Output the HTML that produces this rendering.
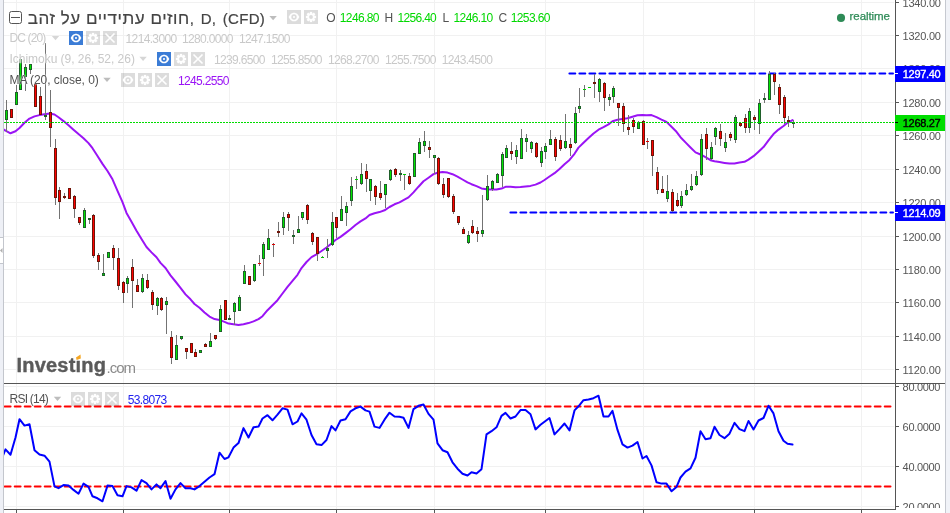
<!DOCTYPE html>
<html><head><meta charset="utf-8"><title>chart</title>
<style>
html,body{margin:0;padding:0;background:#fff;}
body{width:950px;height:513px;overflow:hidden;position:relative;font-family:"Liberation Sans",sans-serif;}
svg{position:absolute;left:0;top:0;}
.t{position:absolute;white-space:nowrap;}
.txt{position:absolute;left:0;top:0;width:950px;height:513px;will-change:transform;}
.lg{text-shadow:0 0 2px #fff,0 0 2px #fff;}
.clip{position:absolute;left:895px;width:50px;overflow:hidden;will-change:transform;}
</style></head><body>
<svg width="950" height="513" viewBox="0 0 950 513"><defs><clipPath id="cm"><rect x="4" y="0" width="890" height="383"/></clipPath><clipPath id="cr"><rect x="4" y="384" width="890" height="125"/></clipPath></defs>
<rect x="4" y="2" width="890" height="1" fill="#f1f1f1"/>
<rect x="4" y="35" width="890" height="1" fill="#f1f1f1"/>
<rect x="4" y="68" width="890" height="1" fill="#f1f1f1"/>
<rect x="4" y="102" width="890" height="1" fill="#f1f1f1"/>
<rect x="4" y="135" width="890" height="1" fill="#f1f1f1"/>
<rect x="4" y="169" width="890" height="1" fill="#f1f1f1"/>
<rect x="4" y="202" width="890" height="1" fill="#f1f1f1"/>
<rect x="4" y="236" width="890" height="1" fill="#f1f1f1"/>
<rect x="4" y="269" width="890" height="1" fill="#f1f1f1"/>
<rect x="4" y="302" width="890" height="1" fill="#f1f1f1"/>
<rect x="4" y="336" width="890" height="1" fill="#f1f1f1"/>
<rect x="4" y="369" width="890" height="1" fill="#f1f1f1"/>
<rect x="4" y="386" width="890" height="1" fill="#f1f1f1"/>
<rect x="4" y="426" width="890" height="1" fill="#f1f1f1"/>
<rect x="4" y="466" width="890" height="1" fill="#f1f1f1"/>
<rect x="4" y="506" width="890" height="1" fill="#f1f1f1"/>
<rect x="16" y="0" width="1" height="383" fill="#f1f1f1"/>
<rect x="16" y="384" width="1" height="125" fill="#f1f1f1"/>
<rect x="123" y="0" width="1" height="383" fill="#f1f1f1"/>
<rect x="123" y="384" width="1" height="125" fill="#f1f1f1"/>
<rect x="229" y="0" width="1" height="383" fill="#f1f1f1"/>
<rect x="229" y="384" width="1" height="125" fill="#f1f1f1"/>
<rect x="336" y="0" width="1" height="383" fill="#f1f1f1"/>
<rect x="336" y="384" width="1" height="125" fill="#f1f1f1"/>
<rect x="434" y="0" width="1" height="383" fill="#f1f1f1"/>
<rect x="434" y="384" width="1" height="125" fill="#f1f1f1"/>
<rect x="545" y="0" width="1" height="383" fill="#f1f1f1"/>
<rect x="545" y="384" width="1" height="125" fill="#f1f1f1"/>
<rect x="643" y="0" width="1" height="383" fill="#f1f1f1"/>
<rect x="643" y="384" width="1" height="125" fill="#f1f1f1"/>
<rect x="754" y="0" width="1" height="383" fill="#f1f1f1"/>
<rect x="754" y="384" width="1" height="125" fill="#f1f1f1"/>
<rect x="861" y="0" width="1" height="383" fill="#f1f1f1"/>
<rect x="861" y="384" width="1" height="125" fill="#f1f1f1"/>
<line x1="569.4" y1="73.45" x2="893" y2="73.45" stroke="#0000ff" stroke-width="2" stroke-dasharray="5.9 4.1" stroke-linecap="round"/>
<line x1="510.4" y1="212.4" x2="893" y2="212.4" stroke="#0000ff" stroke-width="2" stroke-dasharray="5.9 4.1" stroke-linecap="round"/>
<polyline points="0.5,127.5 5.5,130.7 10.5,133.3 15.5,131.3 19.5,128.0 24.5,122.8 29.5,118.6 34.5,116.4 39.5,115.1 44.5,114.2 49.5,113.4 54.5,114.5 58.5,117.3 63.5,121.1 68.5,125.2 73.5,129.7 78.5,134.1 83.5,138.3 88.5,143.1 92.5,148.2 97.5,156.0 102.5,163.9 107.5,171.0 112.5,179.3 117.5,190.8 122.5,202.2 126.5,212.9 131.5,221.7 136.5,230.7 141.5,238.9 146.5,247.0 151.5,252.4 156.5,257.2 160.5,262.9 165.5,268.0 170.5,275.4 175.5,281.5 180.5,287.8 185.5,294.4 190.5,299.3 194.5,304.0 199.5,307.8 204.5,312.5 209.5,316.6 214.5,319.1 219.5,319.9 224.5,321.9 228.5,323.6 233.5,324.2 238.5,325.0 243.5,324.2 248.5,323.1 253.5,321.4 258.5,319.1 262.5,316.2 267.5,310.2 272.5,305.3 277.5,300.2 282.5,293.5 287.5,286.8 292.5,280.8 297.5,274.8 301.5,268.1 306.5,262.0 311.5,257.1 316.5,254.3 321.5,251.0 326.5,247.5 331.5,243.4 335.5,240.0 340.5,236.9 345.5,233.1 350.5,229.2 355.5,225.0 360.5,221.4 365.5,218.4 369.5,215.0 374.5,213.2 379.5,212.1 384.5,210.3 389.5,207.0 394.5,204.3 399.5,202.4 403.5,200.2 408.5,197.4 413.5,192.4 418.5,186.7 423.5,181.3 428.5,177.7 433.5,174.1 437.5,172.8 442.5,172.1 447.5,172.6 452.5,174.2 457.5,176.7 462.5,179.5 467.5,182.4 471.5,184.2 476.5,186.1 481.5,188.4 486.5,189.3 491.5,189.6 496.5,189.6 501.5,188.6 505.5,186.8 510.5,186.8 515.5,187.2 520.5,187.1 525.5,186.5 530.5,185.9 535.5,184.6 540.5,182.5 544.5,180.0 549.5,176.5 554.5,173.2 559.5,168.9 564.5,164.2 569.5,159.9 574.5,153.8 578.5,147.6 583.5,142.7 588.5,138.0 593.5,133.5 598.5,129.7 603.5,127.2 608.5,124.4 612.5,121.2 617.5,119.7 622.5,119.0 627.5,118.3 632.5,116.7 637.5,115.2 642.5,115.1 646.5,115.2 651.5,115.1 656.5,117.1 661.5,119.7 666.5,121.9 671.5,126.8 676.5,131.8 680.5,137.2 685.5,142.4 690.5,147.5 695.5,152.4 700.5,154.5 705.5,157.2 710.5,160.2 714.5,161.3 719.5,162.1 724.5,162.9 729.5,163.6 734.5,163.4 739.5,162.4 744.5,161.8 748.5,159.6 753.5,156.2 758.5,151.7 763.5,147.1 768.5,140.3 773.5,134.1 778.5,129.6 783.5,126.0 787.5,122.8 792.5,120.1" fill="none" stroke="#9a14f5" stroke-width="2" stroke-linejoin="round" stroke-linecap="round" clip-path="url(#cm)"/>
<rect x="6" y="100" width="1" height="32" fill="#737373"/>
<rect x="5" y="110" width="3" height="10" fill="#1f5f2a"/>
<rect x="6" y="111" width="1" height="8" fill="#00e600"/>
<rect x="11" y="109" width="1" height="9" fill="#737373"/>
<rect x="10" y="109" width="3" height="9" fill="#6e1408"/>
<rect x="11" y="110" width="1" height="7" fill="#ff0000"/>
<rect x="16" y="85" width="1" height="20" fill="#737373"/>
<rect x="15" y="92" width="3" height="13" fill="#1f5f2a"/>
<rect x="16" y="93" width="1" height="11" fill="#00e600"/>
<rect x="20" y="58" width="1" height="32" fill="#737373"/>
<rect x="19" y="59" width="3" height="31" fill="#1f5f2a"/>
<rect x="20" y="60" width="1" height="29" fill="#00e600"/>
<rect x="25" y="64" width="1" height="27" fill="#737373"/>
<rect x="24" y="67" width="3" height="10" fill="#1f5f2a"/>
<rect x="25" y="68" width="1" height="8" fill="#00e600"/>
<rect x="30" y="64" width="1" height="10" fill="#737373"/>
<rect x="29" y="64" width="3" height="6" fill="#1f5f2a"/>
<rect x="30" y="65" width="1" height="4" fill="#00e600"/>
<rect x="35" y="84" width="1" height="23" fill="#737373"/>
<rect x="34" y="84" width="3" height="23" fill="#6e1408"/>
<rect x="35" y="85" width="1" height="21" fill="#ff0000"/>
<rect x="40" y="87" width="1" height="28" fill="#737373"/>
<rect x="39" y="96" width="3" height="19" fill="#6e1408"/>
<rect x="40" y="97" width="1" height="17" fill="#ff0000"/>
<rect x="45" y="43" width="1" height="77" fill="#737373"/>
<rect x="44" y="115" width="3" height="2" fill="#1f5f2a"/>
<rect x="50" y="90" width="1" height="57" fill="#737373"/>
<rect x="49" y="112" width="3" height="16" fill="#6e1408"/>
<rect x="50" y="113" width="1" height="14" fill="#ff0000"/>
<rect x="55" y="139" width="1" height="66" fill="#737373"/>
<rect x="54" y="148" width="3" height="50" fill="#6e1408"/>
<rect x="55" y="149" width="1" height="48" fill="#ff0000"/>
<rect x="59" y="187" width="1" height="32" fill="#737373"/>
<rect x="58" y="190" width="3" height="12" fill="#6e1408"/>
<rect x="59" y="191" width="1" height="10" fill="#ff0000"/>
<rect x="64" y="193" width="1" height="6" fill="#737373"/>
<rect x="63" y="196" width="3" height="2" fill="#6e1408"/>
<rect x="69" y="188" width="1" height="11" fill="#737373"/>
<rect x="68" y="188" width="3" height="11" fill="#6e1408"/>
<rect x="69" y="189" width="1" height="9" fill="#ff0000"/>
<rect x="74" y="195" width="1" height="23" fill="#737373"/>
<rect x="73" y="196" width="3" height="13" fill="#6e1408"/>
<rect x="74" y="197" width="1" height="11" fill="#ff0000"/>
<rect x="79" y="217" width="1" height="8" fill="#737373"/>
<rect x="78" y="217" width="3" height="6" fill="#6e1408"/>
<rect x="79" y="218" width="1" height="4" fill="#ff0000"/>
<rect x="84" y="208" width="1" height="20" fill="#737373"/>
<rect x="83" y="210" width="3" height="18" fill="#1f5f2a"/>
<rect x="84" y="211" width="1" height="16" fill="#00e600"/>
<rect x="89" y="218" width="1" height="6" fill="#737373"/>
<rect x="88" y="218" width="3" height="2" fill="#1f5f2a"/>
<rect x="93" y="214" width="1" height="44" fill="#737373"/>
<rect x="92" y="215" width="3" height="41" fill="#6e1408"/>
<rect x="93" y="216" width="1" height="39" fill="#ff0000"/>
<rect x="98" y="253" width="1" height="17" fill="#737373"/>
<rect x="97" y="255" width="3" height="7" fill="#6e1408"/>
<rect x="98" y="256" width="1" height="5" fill="#ff0000"/>
<rect x="103" y="254" width="1" height="22" fill="#737373"/>
<rect x="102" y="273" width="3" height="3" fill="#1f5f2a"/>
<rect x="103" y="274" width="1" height="1" fill="#00e600"/>
<rect x="108" y="252" width="1" height="6" fill="#737373"/>
<rect x="107" y="252" width="3" height="6" fill="#1f5f2a"/>
<rect x="108" y="253" width="1" height="4" fill="#00e600"/>
<rect x="113" y="245" width="1" height="25" fill="#737373"/>
<rect x="112" y="248" width="3" height="10" fill="#6e1408"/>
<rect x="113" y="249" width="1" height="8" fill="#ff0000"/>
<rect x="118" y="248" width="1" height="42" fill="#737373"/>
<rect x="117" y="258" width="3" height="28" fill="#6e1408"/>
<rect x="118" y="259" width="1" height="26" fill="#ff0000"/>
<rect x="123" y="281" width="1" height="22" fill="#737373"/>
<rect x="122" y="282" width="3" height="11" fill="#6e1408"/>
<rect x="123" y="283" width="1" height="9" fill="#ff0000"/>
<rect x="127" y="276" width="1" height="17" fill="#737373"/>
<rect x="126" y="278" width="3" height="6" fill="#1f5f2a"/>
<rect x="127" y="279" width="1" height="4" fill="#00e600"/>
<rect x="132" y="259" width="1" height="49" fill="#737373"/>
<rect x="131" y="267" width="3" height="14" fill="#6e1408"/>
<rect x="132" y="268" width="1" height="12" fill="#ff0000"/>
<rect x="137" y="279" width="1" height="13" fill="#737373"/>
<rect x="136" y="285" width="3" height="7" fill="#6e1408"/>
<rect x="137" y="286" width="1" height="5" fill="#ff0000"/>
<rect x="142" y="274" width="1" height="19" fill="#737373"/>
<rect x="141" y="278" width="3" height="14" fill="#1f5f2a"/>
<rect x="142" y="279" width="1" height="12" fill="#00e600"/>
<rect x="147" y="274" width="1" height="15" fill="#737373"/>
<rect x="146" y="280" width="3" height="8" fill="#6e1408"/>
<rect x="147" y="281" width="1" height="6" fill="#ff0000"/>
<rect x="152" y="290" width="1" height="20" fill="#737373"/>
<rect x="151" y="292" width="3" height="13" fill="#6e1408"/>
<rect x="152" y="293" width="1" height="11" fill="#ff0000"/>
<rect x="157" y="297" width="1" height="18" fill="#737373"/>
<rect x="156" y="298" width="3" height="8" fill="#1f5f2a"/>
<rect x="157" y="299" width="1" height="6" fill="#00e600"/>
<rect x="161" y="297" width="1" height="14" fill="#737373"/>
<rect x="160" y="298" width="3" height="12" fill="#6e1408"/>
<rect x="161" y="299" width="1" height="10" fill="#ff0000"/>
<rect x="166" y="297" width="1" height="37" fill="#737373"/>
<rect x="165" y="301" width="3" height="4" fill="#1f5f2a"/>
<rect x="166" y="302" width="1" height="2" fill="#00e600"/>
<rect x="171" y="331" width="1" height="33" fill="#737373"/>
<rect x="170" y="337" width="3" height="21" fill="#6e1408"/>
<rect x="171" y="338" width="1" height="19" fill="#ff0000"/>
<rect x="176" y="335" width="1" height="25" fill="#737373"/>
<rect x="175" y="345" width="3" height="15" fill="#1f5f2a"/>
<rect x="176" y="346" width="1" height="13" fill="#00e600"/>
<rect x="181" y="336" width="1" height="4" fill="#737373"/>
<rect x="180" y="336" width="3" height="3" fill="#1f5f2a"/>
<rect x="181" y="337" width="1" height="1" fill="#00e600"/>
<rect x="186" y="348" width="1" height="11" fill="#737373"/>
<rect x="185" y="348" width="3" height="4" fill="#6e1408"/>
<rect x="186" y="349" width="1" height="2" fill="#ff0000"/>
<rect x="191" y="343" width="1" height="10" fill="#737373"/>
<rect x="190" y="343" width="3" height="10" fill="#6e1408"/>
<rect x="191" y="344" width="1" height="8" fill="#ff0000"/>
<rect x="195" y="349" width="1" height="8" fill="#737373"/>
<rect x="194" y="352" width="3" height="5" fill="#6e1408"/>
<rect x="195" y="353" width="1" height="3" fill="#ff0000"/>
<rect x="200" y="350" width="1" height="3" fill="#737373"/>
<rect x="199" y="350" width="3" height="3" fill="#1f5f2a"/>
<rect x="200" y="351" width="1" height="1" fill="#00e600"/>
<rect x="205" y="343" width="1" height="4" fill="#737373"/>
<rect x="204" y="344" width="3" height="3" fill="#6e1408"/>
<rect x="205" y="345" width="1" height="1" fill="#ff0000"/>
<rect x="210" y="333" width="1" height="14" fill="#737373"/>
<rect x="209" y="341" width="3" height="6" fill="#1f5f2a"/>
<rect x="210" y="342" width="1" height="4" fill="#00e600"/>
<rect x="215" y="335" width="1" height="5" fill="#737373"/>
<rect x="214" y="335" width="3" height="4" fill="#6e1408"/>
<rect x="215" y="336" width="1" height="2" fill="#ff0000"/>
<rect x="220" y="305" width="1" height="27" fill="#737373"/>
<rect x="219" y="309" width="3" height="23" fill="#1f5f2a"/>
<rect x="220" y="310" width="1" height="21" fill="#00e600"/>
<rect x="225" y="300" width="1" height="20" fill="#737373"/>
<rect x="224" y="300" width="3" height="20" fill="#6e1408"/>
<rect x="225" y="301" width="1" height="18" fill="#ff0000"/>
<rect x="229" y="315" width="1" height="5" fill="#737373"/>
<rect x="228" y="318" width="3" height="2" fill="#1f5f2a"/>
<rect x="234" y="302" width="1" height="23" fill="#737373"/>
<rect x="233" y="303" width="3" height="9" fill="#1f5f2a"/>
<rect x="234" y="304" width="1" height="7" fill="#00e600"/>
<rect x="239" y="295" width="1" height="16" fill="#737373"/>
<rect x="238" y="297" width="3" height="14" fill="#1f5f2a"/>
<rect x="239" y="298" width="1" height="12" fill="#00e600"/>
<rect x="244" y="265" width="1" height="19" fill="#737373"/>
<rect x="243" y="271" width="3" height="13" fill="#1f5f2a"/>
<rect x="244" y="272" width="1" height="11" fill="#00e600"/>
<rect x="249" y="276" width="1" height="9" fill="#737373"/>
<rect x="248" y="276" width="3" height="9" fill="#6e1408"/>
<rect x="249" y="277" width="1" height="7" fill="#ff0000"/>
<rect x="254" y="264" width="1" height="18" fill="#737373"/>
<rect x="253" y="264" width="3" height="17" fill="#1f5f2a"/>
<rect x="254" y="265" width="1" height="15" fill="#00e600"/>
<rect x="259" y="255" width="1" height="11" fill="#737373"/>
<rect x="258" y="263" width="3" height="1" fill="#e00000"/>
<rect x="263" y="242" width="1" height="34" fill="#737373"/>
<rect x="262" y="244" width="3" height="15" fill="#1f5f2a"/>
<rect x="263" y="245" width="1" height="13" fill="#00e600"/>
<rect x="268" y="229" width="1" height="21" fill="#737373"/>
<rect x="267" y="238" width="3" height="12" fill="#1f5f2a"/>
<rect x="268" y="239" width="1" height="10" fill="#00e600"/>
<rect x="273" y="243" width="1" height="14" fill="#737373"/>
<rect x="272" y="244" width="3" height="1" fill="#e00000"/>
<rect x="278" y="222" width="1" height="15" fill="#737373"/>
<rect x="277" y="231" width="3" height="2" fill="#6e1408"/>
<rect x="283" y="212" width="1" height="23" fill="#737373"/>
<rect x="282" y="217" width="3" height="11" fill="#1f5f2a"/>
<rect x="283" y="218" width="1" height="9" fill="#00e600"/>
<rect x="288" y="212" width="1" height="19" fill="#737373"/>
<rect x="287" y="214" width="3" height="4" fill="#6e1408"/>
<rect x="288" y="215" width="1" height="2" fill="#ff0000"/>
<rect x="293" y="230" width="1" height="14" fill="#737373"/>
<rect x="292" y="235" width="3" height="2" fill="#1f5f2a"/>
<rect x="298" y="216" width="1" height="17" fill="#737373"/>
<rect x="297" y="229" width="3" height="4" fill="#1f5f2a"/>
<rect x="298" y="230" width="1" height="2" fill="#00e600"/>
<rect x="302" y="212" width="1" height="8" fill="#737373"/>
<rect x="301" y="212" width="3" height="6" fill="#1f5f2a"/>
<rect x="302" y="213" width="1" height="4" fill="#00e600"/>
<rect x="307" y="204" width="1" height="20" fill="#737373"/>
<rect x="306" y="205" width="3" height="15" fill="#6e1408"/>
<rect x="307" y="206" width="1" height="13" fill="#ff0000"/>
<rect x="312" y="232" width="1" height="13" fill="#737373"/>
<rect x="311" y="233" width="3" height="9" fill="#6e1408"/>
<rect x="312" y="234" width="1" height="7" fill="#ff0000"/>
<rect x="317" y="237" width="1" height="24" fill="#737373"/>
<rect x="316" y="237" width="3" height="17" fill="#6e1408"/>
<rect x="317" y="238" width="1" height="15" fill="#ff0000"/>
<rect x="322" y="256" width="1" height="2" fill="#737373"/>
<rect x="321" y="257" width="3" height="1" fill="#00c800"/>
<rect x="327" y="239" width="1" height="19" fill="#737373"/>
<rect x="326" y="248" width="3" height="3" fill="#1f5f2a"/>
<rect x="327" y="249" width="1" height="1" fill="#00e600"/>
<rect x="332" y="212" width="1" height="34" fill="#737373"/>
<rect x="331" y="222" width="3" height="23" fill="#1f5f2a"/>
<rect x="332" y="223" width="1" height="21" fill="#00e600"/>
<rect x="336" y="217" width="1" height="21" fill="#737373"/>
<rect x="335" y="217" width="3" height="11" fill="#6e1408"/>
<rect x="336" y="218" width="1" height="9" fill="#ff0000"/>
<rect x="341" y="196" width="1" height="25" fill="#737373"/>
<rect x="340" y="209" width="3" height="12" fill="#1f5f2a"/>
<rect x="341" y="210" width="1" height="10" fill="#00e600"/>
<rect x="346" y="202" width="1" height="24" fill="#737373"/>
<rect x="345" y="206" width="3" height="7" fill="#1f5f2a"/>
<rect x="346" y="207" width="1" height="5" fill="#00e600"/>
<rect x="351" y="177" width="1" height="29" fill="#737373"/>
<rect x="350" y="186" width="3" height="15" fill="#1f5f2a"/>
<rect x="351" y="187" width="1" height="13" fill="#00e600"/>
<rect x="356" y="176" width="1" height="13" fill="#737373"/>
<rect x="355" y="179" width="3" height="1" fill="#00c800"/>
<rect x="361" y="163" width="1" height="22" fill="#737373"/>
<rect x="360" y="174" width="3" height="10" fill="#1f5f2a"/>
<rect x="361" y="175" width="1" height="8" fill="#00e600"/>
<rect x="366" y="164" width="1" height="28" fill="#737373"/>
<rect x="365" y="171" width="3" height="8" fill="#6e1408"/>
<rect x="366" y="172" width="1" height="6" fill="#ff0000"/>
<rect x="370" y="179" width="1" height="22" fill="#737373"/>
<rect x="369" y="179" width="3" height="12" fill="#1f5f2a"/>
<rect x="370" y="180" width="1" height="10" fill="#00e600"/>
<rect x="375" y="185" width="1" height="20" fill="#737373"/>
<rect x="374" y="186" width="3" height="11" fill="#6e1408"/>
<rect x="375" y="187" width="1" height="9" fill="#ff0000"/>
<rect x="380" y="181" width="1" height="19" fill="#737373"/>
<rect x="379" y="193" width="3" height="5" fill="#6e1408"/>
<rect x="380" y="194" width="1" height="3" fill="#ff0000"/>
<rect x="385" y="184" width="1" height="24" fill="#737373"/>
<rect x="384" y="184" width="3" height="11" fill="#1f5f2a"/>
<rect x="385" y="185" width="1" height="9" fill="#00e600"/>
<rect x="390" y="169" width="1" height="12" fill="#737373"/>
<rect x="389" y="170" width="3" height="10" fill="#1f5f2a"/>
<rect x="390" y="171" width="1" height="8" fill="#00e600"/>
<rect x="395" y="168" width="1" height="9" fill="#737373"/>
<rect x="394" y="169" width="3" height="6" fill="#6e1408"/>
<rect x="395" y="170" width="1" height="4" fill="#ff0000"/>
<rect x="400" y="170" width="1" height="11" fill="#737373"/>
<rect x="399" y="173" width="3" height="2" fill="#1f5f2a"/>
<rect x="404" y="174" width="1" height="16" fill="#737373"/>
<rect x="403" y="174" width="3" height="1" fill="#00c800"/>
<rect x="409" y="173" width="1" height="12" fill="#737373"/>
<rect x="408" y="176" width="3" height="8" fill="#6e1408"/>
<rect x="409" y="177" width="1" height="6" fill="#ff0000"/>
<rect x="414" y="153" width="1" height="24" fill="#737373"/>
<rect x="413" y="153" width="3" height="24" fill="#1f5f2a"/>
<rect x="414" y="154" width="1" height="22" fill="#00e600"/>
<rect x="419" y="138" width="1" height="16" fill="#737373"/>
<rect x="418" y="142" width="3" height="12" fill="#1f5f2a"/>
<rect x="419" y="143" width="1" height="10" fill="#00e600"/>
<rect x="424" y="131" width="1" height="21" fill="#737373"/>
<rect x="423" y="141" width="3" height="5" fill="#1f5f2a"/>
<rect x="424" y="142" width="1" height="3" fill="#00e600"/>
<rect x="429" y="141" width="1" height="17" fill="#737373"/>
<rect x="428" y="147" width="3" height="3" fill="#6e1408"/>
<rect x="429" y="148" width="1" height="1" fill="#ff0000"/>
<rect x="434" y="155" width="1" height="19" fill="#737373"/>
<rect x="433" y="155" width="3" height="3" fill="#1f5f2a"/>
<rect x="434" y="156" width="1" height="1" fill="#00e600"/>
<rect x="438" y="157" width="1" height="28" fill="#737373"/>
<rect x="437" y="158" width="3" height="26" fill="#6e1408"/>
<rect x="438" y="159" width="1" height="24" fill="#ff0000"/>
<rect x="443" y="178" width="1" height="20" fill="#737373"/>
<rect x="442" y="184" width="3" height="11" fill="#6e1408"/>
<rect x="443" y="185" width="1" height="9" fill="#ff0000"/>
<rect x="448" y="178" width="1" height="20" fill="#737373"/>
<rect x="447" y="178" width="3" height="19" fill="#6e1408"/>
<rect x="448" y="179" width="1" height="17" fill="#ff0000"/>
<rect x="453" y="194" width="1" height="20" fill="#737373"/>
<rect x="452" y="196" width="3" height="16" fill="#6e1408"/>
<rect x="453" y="197" width="1" height="14" fill="#ff0000"/>
<rect x="458" y="216" width="1" height="9" fill="#737373"/>
<rect x="457" y="216" width="3" height="7" fill="#6e1408"/>
<rect x="458" y="217" width="1" height="5" fill="#ff0000"/>
<rect x="463" y="227" width="1" height="7" fill="#737373"/>
<rect x="462" y="229" width="3" height="5" fill="#6e1408"/>
<rect x="463" y="230" width="1" height="3" fill="#ff0000"/>
<rect x="468" y="231" width="1" height="13" fill="#737373"/>
<rect x="467" y="235" width="3" height="8" fill="#1f5f2a"/>
<rect x="468" y="236" width="1" height="6" fill="#00e600"/>
<rect x="472" y="220" width="1" height="14" fill="#737373"/>
<rect x="471" y="226" width="3" height="7" fill="#6e1408"/>
<rect x="472" y="227" width="1" height="5" fill="#ff0000"/>
<rect x="477" y="227" width="1" height="15" fill="#737373"/>
<rect x="476" y="231" width="3" height="3" fill="#6e1408"/>
<rect x="477" y="232" width="1" height="1" fill="#ff0000"/>
<rect x="482" y="195" width="1" height="42" fill="#737373"/>
<rect x="481" y="230" width="3" height="4" fill="#1f5f2a"/>
<rect x="482" y="231" width="1" height="2" fill="#00e600"/>
<rect x="487" y="175" width="1" height="26" fill="#737373"/>
<rect x="486" y="186" width="3" height="14" fill="#1f5f2a"/>
<rect x="487" y="187" width="1" height="12" fill="#00e600"/>
<rect x="492" y="180" width="1" height="11" fill="#737373"/>
<rect x="491" y="181" width="3" height="8" fill="#1f5f2a"/>
<rect x="492" y="182" width="1" height="6" fill="#00e600"/>
<rect x="497" y="173" width="1" height="10" fill="#737373"/>
<rect x="496" y="174" width="3" height="9" fill="#1f5f2a"/>
<rect x="497" y="175" width="1" height="7" fill="#00e600"/>
<rect x="502" y="152" width="1" height="35" fill="#737373"/>
<rect x="501" y="154" width="3" height="22" fill="#1f5f2a"/>
<rect x="502" y="155" width="1" height="20" fill="#00e600"/>
<rect x="506" y="145" width="1" height="13" fill="#737373"/>
<rect x="505" y="148" width="3" height="10" fill="#1f5f2a"/>
<rect x="506" y="149" width="1" height="8" fill="#00e600"/>
<rect x="511" y="142" width="1" height="18" fill="#737373"/>
<rect x="510" y="151" width="3" height="3" fill="#6e1408"/>
<rect x="511" y="152" width="1" height="1" fill="#ff0000"/>
<rect x="516" y="145" width="1" height="19" fill="#737373"/>
<rect x="515" y="150" width="3" height="7" fill="#1f5f2a"/>
<rect x="516" y="151" width="1" height="5" fill="#00e600"/>
<rect x="521" y="129" width="1" height="30" fill="#737373"/>
<rect x="520" y="138" width="3" height="21" fill="#1f5f2a"/>
<rect x="521" y="139" width="1" height="19" fill="#00e600"/>
<rect x="526" y="134" width="1" height="18" fill="#737373"/>
<rect x="525" y="138" width="3" height="4" fill="#1f5f2a"/>
<rect x="526" y="139" width="1" height="2" fill="#00e600"/>
<rect x="531" y="141" width="1" height="12" fill="#737373"/>
<rect x="530" y="142" width="3" height="7" fill="#1f5f2a"/>
<rect x="531" y="143" width="1" height="5" fill="#00e600"/>
<rect x="536" y="142" width="1" height="16" fill="#737373"/>
<rect x="535" y="143" width="3" height="14" fill="#6e1408"/>
<rect x="536" y="144" width="1" height="12" fill="#ff0000"/>
<rect x="541" y="147" width="1" height="20" fill="#737373"/>
<rect x="540" y="151" width="3" height="12" fill="#1f5f2a"/>
<rect x="541" y="152" width="1" height="10" fill="#00e600"/>
<rect x="545" y="143" width="1" height="16" fill="#737373"/>
<rect x="544" y="146" width="3" height="6" fill="#1f5f2a"/>
<rect x="545" y="147" width="1" height="4" fill="#00e600"/>
<rect x="550" y="130" width="1" height="15" fill="#737373"/>
<rect x="549" y="139" width="3" height="6" fill="#1f5f2a"/>
<rect x="550" y="140" width="1" height="4" fill="#00e600"/>
<rect x="555" y="137" width="1" height="24" fill="#737373"/>
<rect x="554" y="139" width="3" height="18" fill="#6e1408"/>
<rect x="555" y="140" width="1" height="16" fill="#ff0000"/>
<rect x="560" y="135" width="1" height="16" fill="#737373"/>
<rect x="559" y="140" width="3" height="9" fill="#6e1408"/>
<rect x="560" y="141" width="1" height="7" fill="#ff0000"/>
<rect x="565" y="114" width="1" height="35" fill="#737373"/>
<rect x="564" y="141" width="3" height="7" fill="#1f5f2a"/>
<rect x="565" y="142" width="1" height="5" fill="#00e600"/>
<rect x="570" y="138" width="1" height="18" fill="#737373"/>
<rect x="569" y="144" width="3" height="4" fill="#6e1408"/>
<rect x="570" y="145" width="1" height="2" fill="#ff0000"/>
<rect x="575" y="107" width="1" height="37" fill="#737373"/>
<rect x="574" y="113" width="3" height="30" fill="#1f5f2a"/>
<rect x="575" y="114" width="1" height="28" fill="#00e600"/>
<rect x="579" y="88" width="1" height="25" fill="#737373"/>
<rect x="578" y="106" width="3" height="3" fill="#1f5f2a"/>
<rect x="579" y="107" width="1" height="1" fill="#00e600"/>
<rect x="584" y="85" width="1" height="12" fill="#737373"/>
<rect x="583" y="89" width="3" height="1" fill="#00c800"/>
<rect x="589" y="87" width="1" height="1" fill="#737373"/>
<rect x="588" y="87" width="3" height="1" fill="#00c800"/>
<rect x="594" y="74" width="1" height="24" fill="#737373"/>
<rect x="593" y="82" width="3" height="2" fill="#6e1408"/>
<rect x="599" y="78" width="1" height="24" fill="#737373"/>
<rect x="598" y="79" width="3" height="13" fill="#1f5f2a"/>
<rect x="599" y="80" width="1" height="11" fill="#00e600"/>
<rect x="604" y="82" width="1" height="29" fill="#737373"/>
<rect x="603" y="83" width="3" height="15" fill="#6e1408"/>
<rect x="604" y="84" width="1" height="13" fill="#ff0000"/>
<rect x="609" y="94" width="1" height="12" fill="#737373"/>
<rect x="608" y="97" width="3" height="3" fill="#1f5f2a"/>
<rect x="609" y="98" width="1" height="1" fill="#00e600"/>
<rect x="613" y="86" width="1" height="17" fill="#737373"/>
<rect x="612" y="88" width="3" height="9" fill="#1f5f2a"/>
<rect x="613" y="89" width="1" height="7" fill="#00e600"/>
<rect x="618" y="103" width="1" height="23" fill="#737373"/>
<rect x="617" y="103" width="3" height="5" fill="#6e1408"/>
<rect x="618" y="104" width="1" height="3" fill="#ff0000"/>
<rect x="623" y="103" width="1" height="29" fill="#737373"/>
<rect x="622" y="106" width="3" height="18" fill="#6e1408"/>
<rect x="623" y="107" width="1" height="16" fill="#ff0000"/>
<rect x="628" y="115" width="1" height="20" fill="#737373"/>
<rect x="627" y="127" width="3" height="3" fill="#6e1408"/>
<rect x="628" y="128" width="1" height="1" fill="#ff0000"/>
<rect x="633" y="118" width="1" height="15" fill="#737373"/>
<rect x="632" y="120" width="3" height="7" fill="#6e1408"/>
<rect x="633" y="121" width="1" height="5" fill="#ff0000"/>
<rect x="638" y="121" width="1" height="8" fill="#737373"/>
<rect x="637" y="122" width="3" height="7" fill="#1f5f2a"/>
<rect x="638" y="123" width="1" height="5" fill="#00e600"/>
<rect x="643" y="120" width="1" height="25" fill="#737373"/>
<rect x="642" y="121" width="3" height="24" fill="#6e1408"/>
<rect x="643" y="122" width="1" height="22" fill="#ff0000"/>
<rect x="647" y="138" width="1" height="11" fill="#737373"/>
<rect x="646" y="141" width="3" height="1" fill="#e00000"/>
<rect x="652" y="140" width="1" height="36" fill="#737373"/>
<rect x="651" y="140" width="3" height="16" fill="#6e1408"/>
<rect x="652" y="141" width="1" height="14" fill="#ff0000"/>
<rect x="657" y="167" width="1" height="27" fill="#737373"/>
<rect x="656" y="172" width="3" height="18" fill="#6e1408"/>
<rect x="657" y="173" width="1" height="16" fill="#ff0000"/>
<rect x="662" y="176" width="1" height="17" fill="#737373"/>
<rect x="661" y="189" width="3" height="4" fill="#6e1408"/>
<rect x="662" y="190" width="1" height="2" fill="#ff0000"/>
<rect x="667" y="175" width="1" height="27" fill="#737373"/>
<rect x="666" y="191" width="3" height="8" fill="#1f5f2a"/>
<rect x="667" y="192" width="1" height="6" fill="#00e600"/>
<rect x="672" y="189" width="1" height="23" fill="#737373"/>
<rect x="671" y="192" width="3" height="19" fill="#6e1408"/>
<rect x="672" y="193" width="1" height="17" fill="#ff0000"/>
<rect x="677" y="193" width="1" height="14" fill="#737373"/>
<rect x="676" y="200" width="3" height="6" fill="#6e1408"/>
<rect x="677" y="201" width="1" height="4" fill="#ff0000"/>
<rect x="681" y="191" width="1" height="17" fill="#737373"/>
<rect x="680" y="196" width="3" height="10" fill="#1f5f2a"/>
<rect x="681" y="197" width="1" height="8" fill="#00e600"/>
<rect x="686" y="184" width="1" height="12" fill="#737373"/>
<rect x="685" y="190" width="3" height="5" fill="#1f5f2a"/>
<rect x="686" y="191" width="1" height="3" fill="#00e600"/>
<rect x="691" y="174" width="1" height="17" fill="#737373"/>
<rect x="690" y="186" width="3" height="4" fill="#1f5f2a"/>
<rect x="691" y="187" width="1" height="2" fill="#00e600"/>
<rect x="696" y="171" width="1" height="15" fill="#737373"/>
<rect x="695" y="176" width="3" height="9" fill="#1f5f2a"/>
<rect x="696" y="177" width="1" height="7" fill="#00e600"/>
<rect x="701" y="134" width="1" height="42" fill="#737373"/>
<rect x="700" y="139" width="3" height="36" fill="#1f5f2a"/>
<rect x="701" y="140" width="1" height="34" fill="#00e600"/>
<rect x="706" y="128" width="1" height="32" fill="#737373"/>
<rect x="705" y="134" width="3" height="15" fill="#6e1408"/>
<rect x="706" y="135" width="1" height="13" fill="#ff0000"/>
<rect x="711" y="142" width="1" height="18" fill="#737373"/>
<rect x="710" y="147" width="3" height="12" fill="#1f5f2a"/>
<rect x="711" y="148" width="1" height="10" fill="#00e600"/>
<rect x="715" y="127" width="1" height="18" fill="#737373"/>
<rect x="714" y="128" width="3" height="9" fill="#1f5f2a"/>
<rect x="715" y="129" width="1" height="7" fill="#00e600"/>
<rect x="720" y="124" width="1" height="22" fill="#737373"/>
<rect x="719" y="131" width="3" height="8" fill="#6e1408"/>
<rect x="720" y="132" width="1" height="6" fill="#ff0000"/>
<rect x="725" y="133" width="1" height="19" fill="#737373"/>
<rect x="724" y="142" width="3" height="6" fill="#1f5f2a"/>
<rect x="725" y="143" width="1" height="4" fill="#00e600"/>
<rect x="730" y="132" width="1" height="9" fill="#737373"/>
<rect x="729" y="134" width="3" height="4" fill="#6e1408"/>
<rect x="730" y="135" width="1" height="2" fill="#ff0000"/>
<rect x="735" y="115" width="1" height="28" fill="#737373"/>
<rect x="734" y="117" width="3" height="23" fill="#1f5f2a"/>
<rect x="735" y="118" width="1" height="21" fill="#00e600"/>
<rect x="740" y="122" width="1" height="5" fill="#737373"/>
<rect x="739" y="123" width="3" height="3" fill="#6e1408"/>
<rect x="740" y="124" width="1" height="1" fill="#ff0000"/>
<rect x="745" y="114" width="1" height="19" fill="#737373"/>
<rect x="744" y="118" width="3" height="10" fill="#6e1408"/>
<rect x="745" y="119" width="1" height="8" fill="#ff0000"/>
<rect x="749" y="108" width="1" height="25" fill="#737373"/>
<rect x="748" y="111" width="3" height="17" fill="#1f5f2a"/>
<rect x="749" y="112" width="1" height="15" fill="#00e600"/>
<rect x="754" y="115" width="1" height="15" fill="#737373"/>
<rect x="753" y="117" width="3" height="3" fill="#6e1408"/>
<rect x="754" y="118" width="1" height="1" fill="#ff0000"/>
<rect x="759" y="99" width="1" height="35" fill="#737373"/>
<rect x="758" y="103" width="3" height="21" fill="#1f5f2a"/>
<rect x="759" y="104" width="1" height="19" fill="#00e600"/>
<rect x="764" y="93" width="1" height="10" fill="#737373"/>
<rect x="763" y="98" width="3" height="2" fill="#1f5f2a"/>
<rect x="769" y="71" width="1" height="29" fill="#737373"/>
<rect x="768" y="74" width="3" height="26" fill="#1f5f2a"/>
<rect x="769" y="75" width="1" height="24" fill="#00e600"/>
<rect x="774" y="73" width="1" height="22" fill="#737373"/>
<rect x="773" y="74" width="3" height="8" fill="#6e1408"/>
<rect x="774" y="75" width="1" height="6" fill="#ff0000"/>
<rect x="779" y="84" width="1" height="30" fill="#737373"/>
<rect x="778" y="87" width="3" height="18" fill="#6e1408"/>
<rect x="779" y="88" width="1" height="16" fill="#ff0000"/>
<rect x="784" y="95" width="1" height="29" fill="#737373"/>
<rect x="783" y="97" width="3" height="21" fill="#6e1408"/>
<rect x="784" y="98" width="1" height="19" fill="#ff0000"/>
<rect x="788" y="116" width="1" height="11" fill="#737373"/>
<rect x="787" y="120" width="3" height="2" fill="#6e1408"/>
<rect x="793" y="120" width="1" height="8" fill="#737373"/>
<rect x="792" y="122" width="3" height="2" fill="#1f5f2a"/>
<line x1="4" y1="122.5" x2="894" y2="122.5" stroke="#00dd00" stroke-width="1" stroke-dasharray="2 1" shape-rendering="crispEdges"/>
<line x1="4.7" y1="406.5" x2="890.5" y2="406.5" stroke="#ff0000" stroke-width="2" stroke-dasharray="5.9 4.1" stroke-linecap="round" clip-path="url(#cr)"/>
<line x1="4.7" y1="486.5" x2="890.5" y2="486.5" stroke="#ff0000" stroke-width="2" stroke-dasharray="5.9 4.1" stroke-linecap="round" clip-path="url(#cr)"/>
<polyline points="0.5,461.6 5.5,449.4 10.5,454.7 15.5,437.5 19.5,419.2 24.5,425.6 29.5,424.3 34.5,450.2 39.5,454.5 44.5,455.7 49.5,461.6 54.5,486.4 58.5,488.2 63.5,485.1 68.5,485.6 73.5,489.9 78.5,493.7 83.5,483.6 88.5,486.9 92.5,496.3 97.5,498.3 102.5,501.3 107.5,485.6 112.5,486.1 117.5,495.3 122.5,496.3 126.5,486.1 131.5,487.4 136.5,490.7 141.5,480.1 146.5,483.1 151.5,489.4 156.5,484.4 160.5,488.2 165.5,481.1 170.5,498.8 175.5,489.4 180.5,483.1 185.5,488.2 190.5,488.2 194.5,489.4 199.5,486.1 204.5,481.8 209.5,477.5 214.5,474.2 219.5,452.7 224.5,459.0 228.5,457.3 233.5,447.6 238.5,443.1 243.5,428.1 248.5,437.5 253.5,427.3 258.5,426.6 262.5,418.5 267.5,415.2 272.5,420.3 277.5,414.7 282.5,408.3 287.5,409.6 292.5,424.3 297.5,421.5 301.5,413.4 306.5,419.7 311.5,435.0 316.5,444.3 321.5,445.1 326.5,440.0 331.5,426.1 335.5,430.4 340.5,420.5 345.5,419.2 350.5,411.4 355.5,408.3 360.5,406.6 365.5,410.4 369.5,411.6 374.5,426.6 379.5,427.9 384.5,419.7 389.5,412.7 394.5,416.5 399.5,416.7 403.5,417.7 408.5,427.9 413.5,409.1 418.5,405.8 423.5,404.5 428.5,413.9 433.5,419.7 437.5,443.3 442.5,450.2 447.5,452.2 452.5,462.3 457.5,468.7 462.5,473.7 467.5,475.5 471.5,472.2 476.5,473.5 481.5,469.2 486.5,434.4 491.5,431.2 496.5,427.3 501.5,415.9 505.5,412.9 510.5,418.5 515.5,416.5 520.5,410.1 525.5,410.1 530.5,414.2 535.5,429.4 540.5,424.8 544.5,421.8 549.5,418.0 554.5,434.4 559.5,429.1 564.5,423.5 569.5,430.4 574.5,410.4 578.5,406.3 583.5,400.2 588.5,399.5 593.5,398.2 598.5,395.7 603.5,416.5 608.5,416.5 612.5,410.9 617.5,429.9 622.5,444.3 627.5,447.6 632.5,445.6 637.5,442.0 642.5,458.5 646.5,456.0 651.5,465.4 656.5,482.3 661.5,483.6 666.5,483.6 671.5,491.2 676.5,486.9 680.5,477.5 685.5,471.7 690.5,468.4 695.5,457.8 700.5,431.2 705.5,439.3 710.5,438.2 714.5,426.8 719.5,435.0 724.5,438.2 729.5,433.7 734.5,422.8 739.5,429.1 744.5,431.2 748.5,421.0 753.5,429.4 758.5,420.5 763.5,418.0 768.5,405.8 773.5,413.4 778.5,431.2 783.5,440.8 787.5,443.8 792.5,444.6" fill="none" stroke="#0000ff" stroke-width="2" stroke-linejoin="round" stroke-linecap="round" clip-path="url(#cr)"/>
<rect x="0" y="0" width="3" height="513" fill="#eef0f6"/>
<rect x="3" y="0" width="1" height="513" fill="#c3c6cd"/>
<rect x="0" y="237" width="3" height="27" fill="#ffffff"/>
<rect x="0" y="237" width="3" height="1" fill="#c3c6cd"/>
<rect x="0" y="263" width="3" height="1" fill="#c3c6cd"/>
<path d="M0 250.5 L2.5 248 L2.5 253 Z" fill="#b0b0b0"/>
<rect x="945" y="0" width="1" height="513" fill="#c6c9d0"/>
<rect x="946" y="0" width="4" height="513" fill="#f1f3f8"/>
<rect x="895" y="0" width="1" height="509" fill="#555555"/>
<rect x="4" y="383" width="941" height="1" fill="#555555"/>
<rect x="4" y="509" width="892" height="1" fill="#555555"/>
<rect x="16" y="510" width="1" height="3" fill="#555555"/>
<rect x="123" y="510" width="1" height="3" fill="#555555"/>
<rect x="229" y="510" width="1" height="3" fill="#555555"/>
<rect x="336" y="510" width="1" height="3" fill="#555555"/>
<rect x="434" y="510" width="1" height="3" fill="#555555"/>
<rect x="545" y="510" width="1" height="3" fill="#555555"/>
<rect x="643" y="510" width="1" height="3" fill="#555555"/>
<rect x="754" y="510" width="1" height="3" fill="#555555"/>
<rect x="861" y="510" width="1" height="3" fill="#555555"/>
<rect x="896" y="2" width="3" height="1" fill="#555555"/>
<rect x="896" y="35" width="3" height="1" fill="#555555"/>
<rect x="896" y="68" width="3" height="1" fill="#555555"/>
<rect x="896" y="102" width="3" height="1" fill="#555555"/>
<rect x="896" y="135" width="3" height="1" fill="#555555"/>
<rect x="896" y="169" width="3" height="1" fill="#555555"/>
<rect x="896" y="202" width="3" height="1" fill="#555555"/>
<rect x="896" y="236" width="3" height="1" fill="#555555"/>
<rect x="896" y="269" width="3" height="1" fill="#555555"/>
<rect x="896" y="302" width="3" height="1" fill="#555555"/>
<rect x="896" y="336" width="3" height="1" fill="#555555"/>
<rect x="896" y="369" width="3" height="1" fill="#555555"/>
<rect x="896" y="386" width="3" height="1" fill="#555555"/>
<rect x="896" y="426" width="3" height="1" fill="#555555"/>
<rect x="896" y="466" width="3" height="1" fill="#555555"/>
<rect x="896" y="506" width="3" height="1" fill="#555555"/>
</svg>
<div class="clip" style="top:0;height:383px;"><span class="t " style="left:7.60px;top:-4.3px;font-size:11px;line-height:15px;color:#555;letter-spacing:-0.244px;">1340.00</span><span class="t " style="left:7.60px;top:28.7px;font-size:11px;line-height:15px;color:#555;letter-spacing:-0.244px;">1320.00</span><span class="t " style="left:7.60px;top:61.7px;font-size:11px;line-height:15px;color:#555;letter-spacing:-0.244px;">1300.00</span><span class="t " style="left:7.60px;top:95.7px;font-size:11px;line-height:15px;color:#555;letter-spacing:-0.244px;">1280.00</span><span class="t " style="left:7.60px;top:128.7px;font-size:11px;line-height:15px;color:#555;letter-spacing:-0.244px;">1260.00</span><span class="t " style="left:7.60px;top:162.7px;font-size:11px;line-height:15px;color:#555;letter-spacing:-0.244px;">1240.00</span><span class="t " style="left:7.60px;top:195.7px;font-size:11px;line-height:15px;color:#555;letter-spacing:-0.244px;">1220.00</span><span class="t " style="left:7.60px;top:229.7px;font-size:11px;line-height:15px;color:#555;letter-spacing:-0.244px;">1200.00</span><span class="t " style="left:7.60px;top:262.7px;font-size:11px;line-height:15px;color:#555;letter-spacing:-0.107px;">1180.00</span><span class="t " style="left:7.60px;top:295.7px;font-size:11px;line-height:15px;color:#555;letter-spacing:-0.107px;">1160.00</span><span class="t " style="left:7.60px;top:329.7px;font-size:11px;line-height:15px;color:#555;letter-spacing:-0.107px;">1140.00</span><span class="t " style="left:7.60px;top:362.7px;font-size:11px;line-height:15px;color:#555;letter-spacing:-0.107px;">1120.00</span><div style="position:absolute;left:0px;top:66px;width:50px;height:16px;background:#0000ff;"></div><div style="position:absolute;left:0px;top:73px;width:3px;height:1px;background:#fff;"></div><span class="t " style="left:7.80px;top:66.7px;font-size:11px;line-height:15px;color:#fff;letter-spacing:-0.311px;-webkit-text-stroke:0.35px #fff;">1297.40</span><div style="position:absolute;left:0px;top:115px;width:50px;height:16px;background:#00dd00;"></div><div style="position:absolute;left:0px;top:122px;width:3px;height:1px;background:#000;"></div><span class="t " style="left:7.80px;top:115.7px;font-size:11px;line-height:15px;color:#000;letter-spacing:-0.311px;-webkit-text-stroke:0.35px #000;">1268.27</span><div style="position:absolute;left:0px;top:205px;width:50px;height:16px;background:#0000ff;"></div><div style="position:absolute;left:0px;top:212px;width:3px;height:1px;background:#fff;"></div><span class="t " style="left:7.80px;top:205.7px;font-size:11px;line-height:15px;color:#fff;letter-spacing:-0.311px;-webkit-text-stroke:0.35px #fff;">1214.09</span></div>
<div class="clip" style="top:384px;height:124.4px;"><span class="t " style="left:7.60px;top:-4.3px;font-size:11px;line-height:15px;color:#555;letter-spacing:-0.311px;">80.0000</span><span class="t " style="left:7.60px;top:35.7px;font-size:11px;line-height:15px;color:#555;letter-spacing:-0.311px;">60.0000</span><span class="t " style="left:7.60px;top:75.7px;font-size:11px;line-height:15px;color:#555;letter-spacing:-0.311px;">40.0000</span><span class="t " style="left:7.60px;top:115.7px;font-size:11px;line-height:15px;color:#555;letter-spacing:-0.311px;">20.0000</span></div>
<svg width="950" height="513" viewBox="0 0 950 513">
<path d="M269.4 16 h7.4 l-3.7 4.2 Z" fill="#bdbdbd"/>
<g transform="translate(287,10)"><rect width="14" height="14" fill="rgba(0,0,0,0.137)"/><path d="M1.7 7 C3.4 3.4 5.4 2.7 7 2.7 C8.6 2.7 10.6 3.4 12.3 7 C10.6 10.6 8.6 11.3 7 11.3 C5.4 11.3 3.4 10.6 1.7 7 Z" fill="#fff"/><circle cx="7" cy="7" r="2.7" fill="#dcdcdc"/><circle cx="7" cy="7" r="1.05" fill="#fff"/></g>
<g transform="translate(304,10)"><rect width="14" height="14" fill="rgba(0,0,0,0.137)"/><g transform="translate(7,7)"><rect x="-1.15" y="-5.1" width="2.3" height="3" fill="#fff" transform="rotate(0)"/><rect x="-1.15" y="-5.1" width="2.3" height="3" fill="#fff" transform="rotate(45)"/><rect x="-1.15" y="-5.1" width="2.3" height="3" fill="#fff" transform="rotate(90)"/><rect x="-1.15" y="-5.1" width="2.3" height="3" fill="#fff" transform="rotate(135)"/><rect x="-1.15" y="-5.1" width="2.3" height="3" fill="#fff" transform="rotate(180)"/><rect x="-1.15" y="-5.1" width="2.3" height="3" fill="#fff" transform="rotate(225)"/><rect x="-1.15" y="-5.1" width="2.3" height="3" fill="#fff" transform="rotate(270)"/><rect x="-1.15" y="-5.1" width="2.3" height="3" fill="#fff" transform="rotate(315)"/><circle r="3.7" fill="#fff"/><circle r="1.9" fill="#dcdcdc"/></g></g>
<path d="M51.8 36 h7.4 l-3.7 4.2 Z" fill="#d6d6d6"/>
<g transform="translate(69,31)"><rect width="14" height="14" fill="#3b7cd6"/><path d="M1.7 7 C3.4 3.4 5.4 2.7 7 2.7 C8.6 2.7 10.6 3.4 12.3 7 C10.6 10.6 8.6 11.3 7 11.3 C5.4 11.3 3.4 10.6 1.7 7 Z" fill="#fff"/><circle cx="7" cy="7" r="2.7" fill="#3b7cd6"/><circle cx="7" cy="7" r="1.05" fill="#fff"/></g>
<g transform="translate(86,31)"><rect width="14" height="14" fill="rgba(0,0,0,0.137)"/><g transform="translate(7,7)"><rect x="-1.15" y="-5.1" width="2.3" height="3" fill="#fff" transform="rotate(0)"/><rect x="-1.15" y="-5.1" width="2.3" height="3" fill="#fff" transform="rotate(45)"/><rect x="-1.15" y="-5.1" width="2.3" height="3" fill="#fff" transform="rotate(90)"/><rect x="-1.15" y="-5.1" width="2.3" height="3" fill="#fff" transform="rotate(135)"/><rect x="-1.15" y="-5.1" width="2.3" height="3" fill="#fff" transform="rotate(180)"/><rect x="-1.15" y="-5.1" width="2.3" height="3" fill="#fff" transform="rotate(225)"/><rect x="-1.15" y="-5.1" width="2.3" height="3" fill="#fff" transform="rotate(270)"/><rect x="-1.15" y="-5.1" width="2.3" height="3" fill="#fff" transform="rotate(315)"/><circle r="3.7" fill="#fff"/><circle r="1.9" fill="#dcdcdc"/></g></g>
<g transform="translate(103,31)"><rect width="14" height="14" fill="rgba(0,0,0,0.137)"/><path d="M2.5 2.5 L11.5 11.5 M11.5 2.5 L2.5 11.5" stroke="#fff" stroke-width="1.6" fill="none"/></g>
<path d="M139.4 56.8 h7.4 l-3.7 4.2 Z" fill="#d6d6d6"/>
<g transform="translate(157,52)"><rect width="14" height="14" fill="#3b7cd6"/><path d="M1.7 7 C3.4 3.4 5.4 2.7 7 2.7 C8.6 2.7 10.6 3.4 12.3 7 C10.6 10.6 8.6 11.3 7 11.3 C5.4 11.3 3.4 10.6 1.7 7 Z" fill="#fff"/><circle cx="7" cy="7" r="2.7" fill="#3b7cd6"/><circle cx="7" cy="7" r="1.05" fill="#fff"/></g>
<g transform="translate(174,52)"><rect width="14" height="14" fill="rgba(0,0,0,0.137)"/><g transform="translate(7,7)"><rect x="-1.15" y="-5.1" width="2.3" height="3" fill="#fff" transform="rotate(0)"/><rect x="-1.15" y="-5.1" width="2.3" height="3" fill="#fff" transform="rotate(45)"/><rect x="-1.15" y="-5.1" width="2.3" height="3" fill="#fff" transform="rotate(90)"/><rect x="-1.15" y="-5.1" width="2.3" height="3" fill="#fff" transform="rotate(135)"/><rect x="-1.15" y="-5.1" width="2.3" height="3" fill="#fff" transform="rotate(180)"/><rect x="-1.15" y="-5.1" width="2.3" height="3" fill="#fff" transform="rotate(225)"/><rect x="-1.15" y="-5.1" width="2.3" height="3" fill="#fff" transform="rotate(270)"/><rect x="-1.15" y="-5.1" width="2.3" height="3" fill="#fff" transform="rotate(315)"/><circle r="3.7" fill="#fff"/><circle r="1.9" fill="#dcdcdc"/></g></g>
<g transform="translate(191,52)"><rect width="14" height="14" fill="rgba(0,0,0,0.137)"/><path d="M2.5 2.5 L11.5 11.5 M11.5 2.5 L2.5 11.5" stroke="#fff" stroke-width="1.6" fill="none"/></g>
<path d="M103.3 77.8 h7.4 l-3.7 4.2 Z" fill="#bdbdbd"/>
<g transform="translate(121,73)"><rect width="14" height="14" fill="rgba(0,0,0,0.137)"/><path d="M1.7 7 C3.4 3.4 5.4 2.7 7 2.7 C8.6 2.7 10.6 3.4 12.3 7 C10.6 10.6 8.6 11.3 7 11.3 C5.4 11.3 3.4 10.6 1.7 7 Z" fill="#fff"/><circle cx="7" cy="7" r="2.7" fill="#dcdcdc"/><circle cx="7" cy="7" r="1.05" fill="#fff"/></g>
<g transform="translate(138,73)"><rect width="14" height="14" fill="rgba(0,0,0,0.137)"/><g transform="translate(7,7)"><rect x="-1.15" y="-5.1" width="2.3" height="3" fill="#fff" transform="rotate(0)"/><rect x="-1.15" y="-5.1" width="2.3" height="3" fill="#fff" transform="rotate(45)"/><rect x="-1.15" y="-5.1" width="2.3" height="3" fill="#fff" transform="rotate(90)"/><rect x="-1.15" y="-5.1" width="2.3" height="3" fill="#fff" transform="rotate(135)"/><rect x="-1.15" y="-5.1" width="2.3" height="3" fill="#fff" transform="rotate(180)"/><rect x="-1.15" y="-5.1" width="2.3" height="3" fill="#fff" transform="rotate(225)"/><rect x="-1.15" y="-5.1" width="2.3" height="3" fill="#fff" transform="rotate(270)"/><rect x="-1.15" y="-5.1" width="2.3" height="3" fill="#fff" transform="rotate(315)"/><circle r="3.7" fill="#fff"/><circle r="1.9" fill="#dcdcdc"/></g></g>
<g transform="translate(155,73)"><rect width="14" height="14" fill="rgba(0,0,0,0.137)"/><path d="M2.5 2.5 L11.5 11.5 M11.5 2.5 L2.5 11.5" stroke="#fff" stroke-width="1.6" fill="none"/></g>
<path d="M53.8 396.8 h7.4 l-3.7 4.2 Z" fill="#bdbdbd"/>
<g transform="translate(71,392)"><rect width="14" height="14" fill="rgba(0,0,0,0.137)"/><path d="M1.7 7 C3.4 3.4 5.4 2.7 7 2.7 C8.6 2.7 10.6 3.4 12.3 7 C10.6 10.6 8.6 11.3 7 11.3 C5.4 11.3 3.4 10.6 1.7 7 Z" fill="#fff"/><circle cx="7" cy="7" r="2.7" fill="#dcdcdc"/><circle cx="7" cy="7" r="1.05" fill="#fff"/></g>
<g transform="translate(88,392)"><rect width="14" height="14" fill="rgba(0,0,0,0.137)"/><g transform="translate(7,7)"><rect x="-1.15" y="-5.1" width="2.3" height="3" fill="#fff" transform="rotate(0)"/><rect x="-1.15" y="-5.1" width="2.3" height="3" fill="#fff" transform="rotate(45)"/><rect x="-1.15" y="-5.1" width="2.3" height="3" fill="#fff" transform="rotate(90)"/><rect x="-1.15" y="-5.1" width="2.3" height="3" fill="#fff" transform="rotate(135)"/><rect x="-1.15" y="-5.1" width="2.3" height="3" fill="#fff" transform="rotate(180)"/><rect x="-1.15" y="-5.1" width="2.3" height="3" fill="#fff" transform="rotate(225)"/><rect x="-1.15" y="-5.1" width="2.3" height="3" fill="#fff" transform="rotate(270)"/><rect x="-1.15" y="-5.1" width="2.3" height="3" fill="#fff" transform="rotate(315)"/><circle r="3.7" fill="#fff"/><circle r="1.9" fill="#dcdcdc"/></g></g>
<g transform="translate(105,392)"><rect width="14" height="14" fill="rgba(0,0,0,0.137)"/><path d="M2.5 2.5 L11.5 11.5 M11.5 2.5 L2.5 11.5" stroke="#fff" stroke-width="1.6" fill="none"/></g>
<rect x="9.5" y="11.5" width="12" height="12" rx="2" ry="2" fill="#fff" stroke="#555" stroke-width="1"/><rect x="11" y="17" width="9" height="1" fill="#555"/>
<circle cx="841" cy="17.9" r="4.05" fill="#2e8b57"/>
<path d="M76.0 357.5 L80.5 354.6 L80.8 358.5 L76.6 359.9 Z" fill="#f5a623"/>
</svg>
<div class="txt">
<span class="t lg" style="left:27.8px;top:7px;line-height:24px;color:#444;-webkit-text-stroke:0.2px #444;"><span style="font-size:17px;letter-spacing:0.53px">חוזים עתידיים על זהב</span><span style="font-size:15px;letter-spacing:0.3px;word-spacing:2px">, D, (CFD)</span></span>
<span class="t lg" style="left:326.20px;top:9.6px;font-size:12px;line-height:16px;color:#525252;letter-spacing:-2.160px;">O</span>
<span class="t lg" style="left:339.80px;top:9.6px;font-size:12px;line-height:16px;color:#00d800;letter-spacing:-0.630px;">1246.80</span>
<span class="t lg" style="left:384.40px;top:9.6px;font-size:12px;line-height:16px;color:#525252;letter-spacing:-1.840px;">H</span>
<span class="t lg" style="left:397.60px;top:9.6px;font-size:12px;line-height:16px;color:#00d800;letter-spacing:-0.697px;">1256.40</span>
<span class="t lg" style="left:442.50px;top:9.6px;font-size:12px;line-height:16px;color:#525252;letter-spacing:-1.360px;">L</span>
<span class="t lg" style="left:453.50px;top:9.6px;font-size:12px;line-height:16px;color:#00d800;letter-spacing:-0.597px;">1246.10</span>
<span class="t lg" style="left:498.40px;top:9.6px;font-size:12px;line-height:16px;color:#525252;letter-spacing:-2.440px;">C</span>
<span class="t lg" style="left:510.70px;top:9.6px;font-size:12px;line-height:16px;color:#00d800;letter-spacing:-0.597px;">1253.60</span>
<span class="t lg" style="left:9.50px;top:30.3px;font-size:12px;line-height:16px;color:#c9c9c9;letter-spacing:-0.867px;">DC (20)</span>
<span class="t lg" style="left:125.60px;top:31.3px;font-size:12px;line-height:16px;color:#c9c9c9;letter-spacing:-0.650px;">1214.3000</span>
<span class="t lg" style="left:182.00px;top:31.3px;font-size:12px;line-height:16px;color:#c9c9c9;letter-spacing:-0.650px;">1280.0000</span>
<span class="t lg" style="left:239.00px;top:31.3px;font-size:12px;line-height:16px;color:#c9c9c9;letter-spacing:-0.650px;">1247.1500</span>
<span class="t lg" style="left:9.50px;top:51.3px;font-size:12px;line-height:16px;color:#c9c9c9;letter-spacing:-0.029px;">Ichimoku (9, 26, 52, 26)</span>
<span class="t lg" style="left:214.00px;top:52.3px;font-size:12px;line-height:16px;color:#c9c9c9;letter-spacing:-0.675px;">1239.6500</span>
<span class="t lg" style="left:271.10px;top:52.3px;font-size:12px;line-height:16px;color:#c9c9c9;letter-spacing:-0.675px;">1255.8500</span>
<span class="t lg" style="left:328.00px;top:52.3px;font-size:12px;line-height:16px;color:#c9c9c9;letter-spacing:-0.675px;">1268.2700</span>
<span class="t lg" style="left:385.00px;top:52.3px;font-size:12px;line-height:16px;color:#c9c9c9;letter-spacing:-0.675px;">1255.7500</span>
<span class="t lg" style="left:441.70px;top:52.3px;font-size:12px;line-height:16px;color:#c9c9c9;letter-spacing:-0.675px;">1243.4500</span>
<span class="t lg" style="left:9.50px;top:72.3px;font-size:12px;line-height:16px;color:#525252;letter-spacing:-0.048px;">MA (20, close, 0)</span>
<span class="t lg" style="left:178.00px;top:73.3px;font-size:12px;line-height:16px;color:#9a14f5;letter-spacing:-0.675px;">1245.2550</span>
<span class="t lg" style="left:9.50px;top:391.2px;font-size:12px;line-height:16px;color:#525252;letter-spacing:-0.771px;">RSI (14)</span>
<span class="t lg" style="left:127.70px;top:392.2px;font-size:12px;line-height:16px;color:#2222ee;letter-spacing:-0.663px;">53.8073</span>
<span class="t " style="left:849.60px;top:9.1px;font-size:11.5px;line-height:15.5px;color:#2e8b57;letter-spacing:-0.069px;-webkit-text-stroke:0.25px #2e8b57;">realtime</span>
<span class="t " style="left:16.60px;top:353.3px;font-size:20px;line-height:24px;color:#5a5a5a;letter-spacing:0.187px;font-weight:bold;-webkit-text-stroke:0.4px #5a5a5a;">Invest&#305;ng</span>
<span class="t " style="left:106.60px;top:357.8px;font-size:15px;line-height:19px;color:#8a8a8a;letter-spacing:-1.025px;">.com</span>
</div>
</body></html>
